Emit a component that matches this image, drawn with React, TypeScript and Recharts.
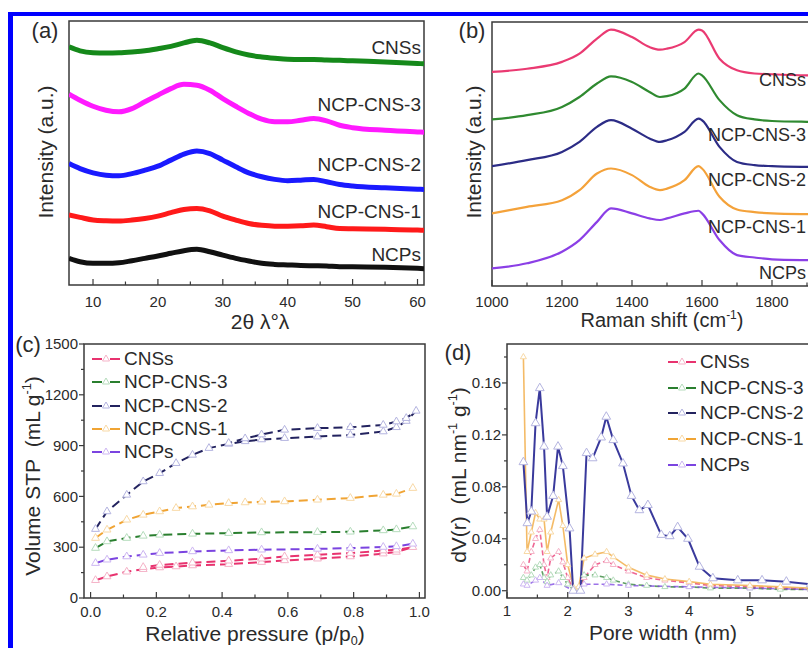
import React from 'react'
import { LineChart, Line, XAxis, YAxis, ReferenceArea } from 'recharts'

const FONT = '"Liberation Sans", Arial, sans-serif'
const INK = '#2a2a2a'
const FRAME = '#3a3a3a'

// (a) XRD, intensity in a.u.
const xrdAngle = [6.3, 8, 10, 12, 14, 16, 18, 20, 22, 24, 26, 28, 30, 32, 34, 36, 38, 40, 42, 44, 46, 48, 50, 55, 60, 61]
const xrdCNSs = [90.2, 88.7, 88.0, 87.9, 88.0, 88.3, 88.7, 89.5, 90.4, 91.7, 92.7, 91.7, 89.9, 88.3, 87.1, 86.4, 85.9, 85.5, 85.4, 85.4, 85.2, 85.1, 84.9, 84.5, 83.9, 83.8]
const xrdNCP3 = [72.3, 70.0, 67.7, 66.2, 65.6, 66.8, 69.4, 71.9, 74.4, 76.0, 75.7, 73.8, 70.6, 67.7, 65.0, 62.8, 61.8, 61.8, 62.4, 63.1, 62.2, 60.5, 59.6, 58.6, 58.0, 57.9]
const xrdNCP2 = [46.0, 44.1, 42.5, 41.6, 41.4, 42.2, 43.5, 45.0, 47.3, 49.6, 50.8, 49.8, 47.3, 44.8, 42.5, 41.0, 40.0, 39.5, 39.7, 40.0, 39.1, 38.1, 37.5, 36.8, 36.3, 36.2]
const xrdNCP1 = [26.5, 25.6, 24.6, 24.3, 24.2, 24.6, 25.2, 26.1, 27.4, 28.6, 29.0, 28.1, 26.1, 24.6, 23.3, 22.6, 22.3, 22.3, 22.4, 22.7, 22.1, 21.4, 21.3, 21.1, 20.8, 20.7]
const xrdNCPs = [10.1, 8.8, 8.2, 8.2, 8.4, 9.2, 10.1, 11.0, 12.0, 13.0, 13.5, 12.6, 11.3, 10.1, 9.1, 8.2, 7.8, 7.6, 7.4, 7.3, 7.2, 6.9, 6.9, 6.7, 6.3, 6.2]
const xrdTicks = [10, 15, 20, 25, 30, 35, 40, 45, 50, 55, 60]
const xrdLabels = ['10', '', '20', '', '30', '', '40', '', '50', '', '60']

// (b) Raman
const ramanShift = [1000, 1100, 1200, 1250, 1300, 1340, 1400, 1450, 1480, 1500, 1550, 1590, 1600, 1650, 1700, 1750, 1800, 1900, 2000]
const ramanCNSs = [81.1, 82.3, 84.9, 88.0, 93.7, 97.1, 94.3, 90.5, 89.5, 89.9, 92.4, 97.1, 96.8, 86.1, 81.7, 80.5, 80.2, 79.8, 79.7]
const ramanNCP3 = [63.1, 64.7, 67.8, 71.6, 76.7, 79.4, 77.3, 73.5, 71.6, 71.9, 74.8, 80.5, 79.8, 70.4, 64.7, 63.1, 62.5, 62.2, 62.1]
const ramanNCP2 = [45.4, 47.7, 50.8, 54.6, 60.3, 62.8, 59.6, 55.9, 54.6, 55.2, 58.4, 63.4, 62.8, 52.7, 47.0, 45.8, 45.4, 45.1, 45.0]
const ramanNCP1 = [27.5, 30.0, 32.5, 36.3, 42.6, 44.5, 42.0, 37.6, 36.3, 36.9, 40.1, 45.4, 44.5, 33.8, 29.0, 28.0, 27.5, 27.2, 27.1]
const ramanNCPs = [6.7, 8.6, 13.0, 17.4, 24.3, 29.4, 27.5, 25.6, 25.0, 25.6, 27.5, 28.5, 27.5, 17.4, 11.7, 10.8, 10.1, 9.8, 9.7]
const ramanTicks = [1000, 1100, 1200, 1300, 1400, 1500, 1600, 1700, 1800, 1900, 2000]
const ramanLabels = ['1000', '', '1200', '', '1400', '', '1600', '', '1800', '', '']

// (c) N2 isotherms (adsorption then desorption)
const isoCNSsP = [0.015, 0.05, 0.11, 0.16, 0.21, 0.26, 0.31, 0.42, 0.52, 0.59, 0.69, 0.79, 0.89, 0.93, 0.98, 0.93, 0.89, 0.79, 0.69, 0.59, 0.52, 0.42, 0.31, 0.21, 0.16]
const isoCNSsV = [105, 127, 155, 170, 180, 186, 192, 200, 212, 222, 232, 245, 262, 272, 300, 285, 280, 265, 255, 245, 232, 220, 208, 195, 182]
const isoNCP3P = [0.015, 0.05, 0.11, 0.16, 0.21, 0.31, 0.42, 0.52, 0.69, 0.79, 0.89, 0.93, 0.98]
const isoNCP3V = [295, 334, 354, 367, 373, 379, 383, 387, 389, 391, 399, 405, 422]
const isoNCP2P = [0.015, 0.05, 0.11, 0.16, 0.21, 0.26, 0.31, 0.36, 0.42, 0.47, 0.52, 0.59, 0.69, 0.79, 0.89, 0.93, 0.96, 0.99, 0.96, 0.93, 0.89, 0.79, 0.69, 0.59, 0.52, 0.47, 0.42]
const isoNCP2V = [407, 511, 609, 688, 737, 796, 845, 885, 910, 925, 936, 944, 953, 963, 983, 1008, 1045, 1105, 1062, 1042, 1022, 1008, 1003, 993, 965, 942, 915]
const isoNCP1P = [0.015, 0.05, 0.11, 0.16, 0.21, 0.26, 0.31, 0.36, 0.42, 0.47, 0.52, 0.59, 0.69, 0.79, 0.89, 0.93, 0.98]
const isoNCP1V = [354, 403, 462, 491, 511, 531, 540, 550, 560, 564, 568, 570, 580, 590, 609, 615, 649]
const isoNCPsP = [0.015, 0.05, 0.11, 0.16, 0.21, 0.31, 0.42, 0.52, 0.69, 0.79, 0.89, 0.93, 0.98]
const isoNCPsV = [206, 226, 245, 255, 265, 275, 281, 285, 290, 295, 301, 305, 320]
const isoTicksX = [0, 0.1, 0.2, 0.3, 0.4, 0.5, 0.6, 0.7, 0.8, 0.9, 1.0]
const isoLabelsX = ['0.0', '', '0.2', '', '0.4', '', '0.6', '', '0.8', '', '1.0']
const isoTicksY = [0, 150, 300, 450, 600, 750, 900, 1050, 1200, 1350, 1500]
const isoLabelsY = ['0', '', '300', '', '600', '', '900', '', '1200', '', '1500']

// (d) pore size distribution
const psdCNSsW = [1.27, 1.33, 1.40, 1.47, 1.54, 1.61, 1.66, 1.72, 1.85, 1.92, 2.0, 2.1, 2.18, 2.27, 2.45, 2.64, 2.75, 3.0, 3.3, 3.6, 4.0, 4.35, 5.0, 5.5, 6.0, 6.5]
const psdCNSsV = [0.02, 0.015, 0.03, 0.04, 0.047, 0.02, 0.01, 0.025, 0.03, 0.022, 0.01, 0.0, 0.0, 0.01, 0.02, 0.023, 0.02, 0.015, 0.01, 0.008, 0.006, 0.004, 0.003, 0.002, 0.001, 0.001]
const psdNCP3W = psdCNSsW
const psdNCP3V = [0.01, 0.008, 0.012, 0.018, 0.02, 0.01, 0.007, 0.012, 0.015, 0.01, 0.005, 0.0, 0.002, 0.012, 0.012, 0.01, 0.008, 0.005, 0.004, 0.003, 0.003, 0.002, 0.002, 0.001, 0.001, 0.001]
const psdNCP2W = [1.27, 1.335, 1.40, 1.47, 1.54, 1.61, 1.66, 1.76, 1.84, 1.92, 2.03, 2.09, 2.21, 2.31, 2.41, 2.55, 2.635, 2.75, 2.91, 3.05, 3.18, 3.32, 3.54, 3.68, 3.81, 3.98, 4.17, 4.39, 4.8, 5.2, 5.6, 6.0, 6.5]
const psdNCP2V = [0.099, 0.052, 0.061, 0.129, 0.156, 0.111, 0.057, 0.073, 0.111, 0.096, 0.048, 0.0, 0.0, 0.106, 0.102, 0.118, 0.134, 0.116, 0.098, 0.073, 0.062, 0.066, 0.043, 0.042, 0.049, 0.040, 0.0185, 0.0096, 0.008, 0.008, 0.007, 0.005, 0.004]
const psdNCP1W = psdCNSsW
const psdNCP1V = [0.18, 0.03, 0.045, 0.06, 0.055, 0.055, 0.03, 0.045, 0.07, 0.05, 0.02, 0.002, 0.003, 0.025, 0.028, 0.03, 0.026, 0.018, 0.012, 0.009, 0.007, 0.005, 0.004, 0.003, 0.002, 0.002]
const psdNCPsW = [1.27, 1.33, 1.47, 1.54, 1.66, 1.85, 2.1, 2.27, 2.64, 3.0, 4.0, 5.0, 6.0, 6.5]
const psdNCPsV = [0.005, 0.004, 0.008, 0.01, 0.004, 0.006, 0.0, 0.005, 0.005, 0.004, 0.003, 0.002, 0.001, 0.001]
const psdTicksX = [1, 1.5, 2, 2.5, 3, 3.5, 4, 4.5, 5, 5.5, 6, 6.5]
const psdLabelsX = ['1', '', '2', '', '3', '', '4', '', '5', '', '', '']
const psdTicksY = [0, 0.02, 0.04, 0.06, 0.08, 0.1, 0.12, 0.14, 0.16, 0.18]
const psdLabelsY = ['0.00', '', '0.04', '', '0.08', '', '0.12', '', '0.16', '']

const names = ['CNSs', 'NCP-CNS-3', 'NCP-CNS-2', 'NCP-CNS-1', 'NCPs']
const xrdColors = ['#15891a', '#ff1aff', '#1a1aff', '#ff1a1a', '#111111']
const ramanColors = ['#ea3a72', '#2f8a30', '#2c2c86', '#f4a23a', '#8b3fe6']
const isoColors = ['#e8336f', '#2a7f2f', '#23235f', '#f0a434', '#7b44e0']
const markColors = ['#f5b3c8', '#b5dcbc', '#b4b4e0', '#f8d9a6', '#cdb6f2']

const xrdData = xrdAngle.map((a, i) => ({ a, s0: xrdCNSs[i], s1: xrdNCP3[i], s2: xrdNCP2[i], s3: xrdNCP1[i], s4: xrdNCPs[i] }))
const ramanData = ramanShift.map((w, i) => ({ w, s0: ramanCNSs[i], s1: ramanNCP3[i], s2: ramanNCP2[i], s3: ramanNCP1[i], s4: ramanNCPs[i] }))
const pairs = (xs: number[], ys: number[]) => xs.map((x, i) => ({ x, v: ys[i] }))
const isoSeries = [pairs(isoCNSsP, isoCNSsV), pairs(isoNCP3P, isoNCP3V), pairs(isoNCP2P, isoNCP2V), pairs(isoNCP1P, isoNCP1V), pairs(isoNCPsP, isoNCPsV)]
const psdSeries = [pairs(psdCNSsW, psdCNSsV), pairs(psdNCP3W, psdNCP3V), pairs(psdNCP2W, psdNCP2V), pairs(psdNCP1W, psdNCP1V), pairs(psdNCPsW, psdNCPsV)]

// label looked up by tick value, so it does not depend on the index prop
const labelOf = (ticks: number[], labels: string[], v: number) => {
  const i = ticks.findIndex((t) => Math.abs(t - v) < 1e-9)
  return i < 0 ? '' : labels[i]
}

const bottomTick = (ticks: number[], labels: string[], size: number, gap: number) => (p: any) => {
  const lab = labelOf(ticks, labels, p.payload?.value)
  const major = ticks.indexOf(p.payload?.value) % 2 === 0
  return (
    <g key={`b${p.payload?.value}`}>
      <line x1={p.x} x2={p.x} y1={p.y} y2={p.y - (major ? 6 : 3.5)} stroke={FRAME} strokeWidth={1.2} />
      {lab && <text x={p.x} y={p.y + gap} textAnchor="middle" fontSize={size} fill={INK} fontFamily={FONT}>{lab}</text>}
    </g>
  )
}

const leftTick = (ticks: number[], labels: string[], size: number) => (p: any) => {
  const lab = labelOf(ticks, labels, p.payload?.value)
  return (
    <g key={`l${p.payload?.value}`}>
      <line x1={p.x} x2={p.x - (lab ? 5 : 3)} y1={p.y} y2={p.y} stroke={FRAME} strokeWidth={1.2} />
      {lab && <text x={p.x - 6} y={p.y} dy="0.35em" textAnchor="end" fontSize={size} fill={INK} fontFamily={FONT}>{lab}</text>}
    </g>
  )
}

const triDot = (stroke: string, r: number) => (p: any) => {
  const { cx, cy, index } = p
  if (cx == null || cy == null) return <g key={`t${index}`} />
  const h = r * 0.87
  return <polygon key={`t${index}`} points={`${cx},${cy - r} ${cx - h},${cy + r / 2} ${cx + h},${cy + r / 2}`} fill="#fff" stroke={stroke} strokeWidth={1} />
}

const Txt = ({ x, y, size, anchor = 'middle', rotate = false, children }: any) => {
  const tx = anchor === 'middle' ? '-50%' : anchor === 'end' ? '-100%' : '0'
  return (
    <div style={{
      position: 'absolute', left: x, top: y, fontSize: size, color: INK, lineHeight: 1, whiteSpace: 'nowrap',
      transform: `translate(${tx}, -50%)${rotate ? ' rotate(-90deg)' : ''}`,
    }}>{children}</div>
  )
}

const Sup = ({ children }: any) => <span style={{ fontSize: '0.6em', position: 'relative', top: '-0.7em' }}>{children}</span>
const Sub = ({ children }: any) => <span style={{ fontSize: '0.6em', position: 'relative', top: '0.35em' }}>{children}</span>

const LegendBox = ({ x, y, gap, colors, marks }: any) => (
  <div style={{ position: 'absolute', left: x, top: y }}>
    {names.map((n, i) => (
      <div key={n} style={{ display: 'flex', alignItems: 'center', height: gap, fontSize: 19, color: INK }}>
        <svg width={28} height={14} style={{ marginRight: 4 }}>
          <line x1={0} x2={10} y1={7} y2={7} stroke={colors[i]} strokeWidth={2} />
          <line x1={18} x2={28} y1={7} y2={7} stroke={colors[i]} strokeWidth={2} />
          <polygon points="14,3 10.5,9 17.5,9" fill="#fff" stroke={marks[i]} strokeWidth={1} />
        </svg>
        <span>{n}</span>
      </div>
    ))}
  </div>
)

const frame = (x1: number, x2: number, y1: number, y2: number) => (
  <ReferenceArea x1={x1} x2={x2} y1={y1} y2={y2} fill="none" stroke={FRAME} strokeWidth={1.5} ifOverflow="visible" />
)

export default function App() {
  return (
    <div style={{ position: 'absolute', left: 0, top: 0, width: 808, height: 648, overflow: 'hidden', background: '#fff', fontFamily: FONT }}>
      <div style={{ position: 'absolute', left: 8, top: 12, right: -20, bottom: -20, borderTop: '4px solid #0000ff', borderLeft: '5px solid #0000ff' }} />

      {/* (a) */}
      <div style={{ position: 'absolute', left: 0, top: 0 }}>
        <LineChart width={430} height={330} data={xrdData} margin={{ top: 21, left: 69, right: 6, bottom: 44 }}>
          <XAxis dataKey="a" type="number" domain={[6.3, 61]} allowDataOverflow ticks={xrdTicks} interval={0} height={1}
            tickSize={0} tickMargin={0} axisLine={false} tickLine={false} tick={bottomTick(xrdTicks, xrdLabels, 15, 22)} />
          <YAxis type="number" domain={[0, 100]} hide />
          {xrdColors.map((c, i) => (
            <Line key={i} dataKey={`s${i}`} type="monotone" stroke={c} strokeWidth={5} dot={false} activeDot={false} isAnimationActive={false} />
          ))}
          {frame(6.3, 61, 0, 100)}
        </LineChart>
      </div>

      {/* (b) */}
      <div style={{ position: 'absolute', left: 430, top: 0 }}>
        <LineChart width={420} height={330} data={ramanData} margin={{ top: 22, left: 62, right: 8, bottom: 43 }}>
          <XAxis dataKey="w" type="number" domain={[1000, 2000]} allowDataOverflow ticks={ramanTicks} interval={0} height={1}
            tickSize={0} tickMargin={0} axisLine={false} tickLine={false} tick={bottomTick(ramanTicks, ramanLabels, 15, 21)} />
          <YAxis type="number" domain={[0, 100]} hide />
          {ramanColors.map((c, i) => (
            <Line key={i} dataKey={`s${i}`} type="monotone" stroke={c} strokeWidth={2.2} dot={false} activeDot={false} isAnimationActive={false} />
          ))}
          {frame(1000, 2000, 0, 100)}
        </LineChart>
      </div>

      {/* (c) */}
      <div style={{ position: 'absolute', left: 0, top: 320 }}>
        <LineChart width={440} height={328} margin={{ top: 24, left: 83, right: 15, bottom: 49 }}>
          <XAxis dataKey="x" type="number" domain={[-0.02, 1.017]} allowDataOverflow ticks={isoTicksX} interval={0} height={1}
            tickSize={0} tickMargin={0} axisLine={false} tickLine={false} tick={bottomTick(isoTicksX, isoLabelsX, 15, 19)} />
          <YAxis dataKey="v" type="number" domain={[0, 1500]} allowDataOverflow ticks={isoTicksY} interval={0} width={1}
            tickSize={0} tickMargin={0} axisLine={false} tickLine={false} tick={leftTick(isoTicksY, isoLabelsY, 15)} />
          {isoSeries.map((d, i) => (
            <Line key={i} data={d} dataKey="v" type="linear" stroke={isoColors[i]} strokeWidth={2} strokeDasharray="9 5"
              dot={triDot(markColors[i], 4.5)} activeDot={false} isAnimationActive={false} />
          ))}
          {frame(-0.02, 1.017, 0, 1500)}
        </LineChart>
      </div>

      {/* (d) */}
      <div style={{ position: 'absolute', left: 430, top: 320 }}>
        <LineChart width={420} height={328} margin={{ top: 24, left: 76, right: 9, bottom: 49 }}>
          <XAxis dataKey="x" type="number" domain={[1, 6.5]} allowDataOverflow ticks={psdTicksX} interval={0} height={1}
            tickSize={0} tickMargin={0} axisLine={false} tickLine={false} tick={bottomTick(psdTicksX, psdLabelsX, 15, 18)} />
          <YAxis dataKey="v" type="number" domain={[-0.0056, 0.19]} allowDataOverflow ticks={psdTicksY} interval={0} width={1}
            tickSize={0} tickMargin={0} axisLine={false} tickLine={false} tick={leftTick(psdTicksY, psdLabelsY, 15)} />
          {[0, 1, 4, 3, 2].map((i) => (
            <Line key={i} data={psdSeries[i]} dataKey="v" type="linear"
              stroke={i === 2 ? '#3a3a9c' : isoColors[i]} strokeOpacity={i === 2 ? 1 : 0.75}
              strokeWidth={i === 2 ? 2 : 1.6} strokeDasharray={i === 2 || i === 3 ? undefined : '5 3'}
              dot={triDot(markColors[i], i === 2 ? 5 : 3.5)} activeDot={false} isAnimationActive={false} />
          ))}
          {frame(1, 6.5, -0.0056, 0.19)}
        </LineChart>
      </div>

      {/* panel letters */}
      <Txt x={45} y={31} size={22}>(a)</Txt>
      <Txt x={472} y={31} size={22}>(b)</Txt>
      <Txt x={28} y={345} size={22}>(c)</Txt>
      <Txt x={458} y={353} size={22}>(d)</Txt>

      {/* axis titles */}
      <Txt x={45} y={152} size={21} rotate>Intensity (a.u.)</Txt>
      <Txt x={260} y={321} size={21}>2θ λ°λ</Txt>
      <Txt x={473} y={152} size={21} rotate>Intensity (a.u.)</Txt>
      <Txt x={662} y={320} size={20}>Raman shift (cm<Sup>-1</Sup>)</Txt>
      <Txt x={32} y={476} size={21} rotate>Volume STP&nbsp;&nbsp;(mL g<Sup>-1</Sup>)</Txt>
      <Txt x={255} y={633} size={21}>Relative pressure (p/p<Sub>0</Sub>)</Txt>
      <Txt x={458} y={475} size={21} rotate>dV(r)&nbsp;&nbsp;(mL nm<Sup>-1</Sup> g<Sup>-1</Sup>)</Txt>
      <Txt x={663} y={632} size={21}>Pore width (nm)</Txt>

      {/* series labels (a) */}
      {[46.7, 104, 164, 210.7, 254].map((y, i) => (
        <Txt key={`a${i}`} x={421} y={y} size={19} anchor="end">{names[i]}</Txt>
      ))}
      {/* series labels (b) */}
      {[80, 135, 180, 226.7, 273.3].map((y, i) => (
        <Txt key={`b${i}`} x={806} y={y} size={18} anchor="end">{names[i]}</Txt>
      ))}

      <LegendBox x={92} y={347.5} gap={23.3} colors={isoColors} marks={markColors} />
      <LegendBox x={668} y={349} gap={25.8} colors={isoColors} marks={markColors} />
    </div>
  )
}
